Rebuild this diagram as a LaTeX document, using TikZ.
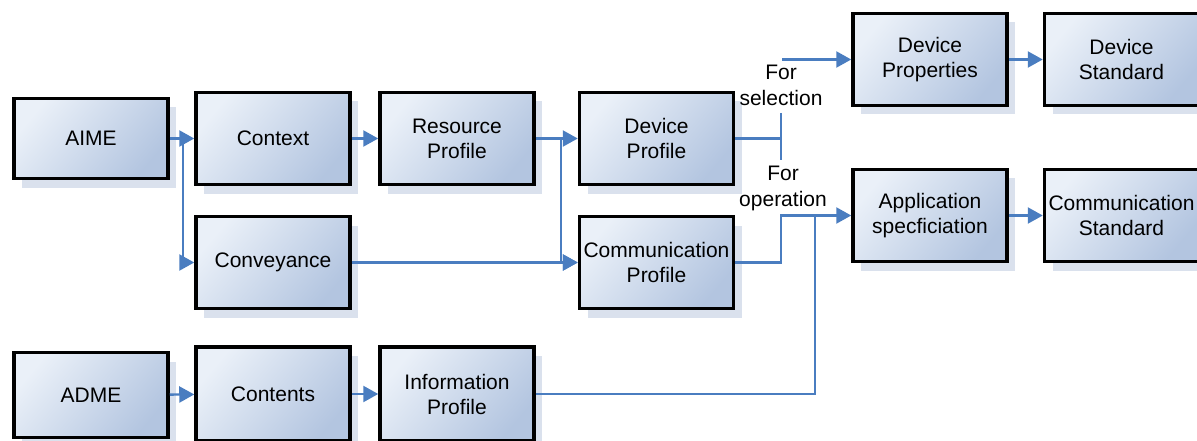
\documentclass[tikz,border=0pt]{standalone}
\usepackage{fontspec}
\setmainfont{Liberation Sans}
\usetikzlibrary{arrows.meta,shadows}
\definecolor{linkblue}{HTML}{4A7DC0}
\definecolor{boxlight}{HTML}{EAF0F8}
\definecolor{boxdark}{HTML}{B3C5E0}
\definecolor{shadowblue}{HTML}{DAE1ED}

\begin{document}
\begin{tikzpicture}[x=1pt,y=-1pt,
  box node/.style={rectangle,draw=black,line width=3.5pt,top color=boxlight,bottom color=boxdark,shading angle=50,
    align=center,font=\fontsize{21}{25}\selectfont,minimum width=154pt,minimum height=92pt,inner sep=0pt,
    general shadow={fill=shadowblue,shadow xshift=8pt,shadow yshift=-9pt}},
  word node/.style={align=center,inner sep=0pt,font=\fontsize{21}{26}\selectfont},
  wire/.style={draw=linkblue,line width=2.4pt},
  link/.style={wire,-{Triangle[length=15pt,width=16pt,fill=linkblue]}}]

  \useasboundingbox (0,0) rectangle (1197,441);

  \node[box node,minimum height=80pt] (aime) at (91,138.5){AIME};
  \node[box node] (context) at (273,138.5){Context};
  \node[box node] (resource) at (457,138.5){Resource\\Profile};
  \node[box node] (devprof) at (656.5,138.5){Device\\Profile};
  \node[box node] (conv) at (273,262.5){Conveyance};
  \node[box node] (commprof) at (656.5,262.5){Communication\\Profile};
  \node[box node] (devprop) at (930,59.5){Device\\Properties};
  \node[box node] (devstd) at (1121.5,59.5){Device\\Standard};
  \node[box node] (appspec) at (930,215.5){Application\\specficiation};
  \node[box node] (commstd) at (1121.5,215.5){Communication\\Standard};
  \node[box node,minimum height=85pt] (adme) at (91,395){ADME};
  \node[box node,minimum height=94pt] (contents) at (273,394){Contents};
  \node[box node,minimum height=94pt] (info) at (457,394){Information\\Profile};

  \node[word node] (sel) at (781,85){For\\selection};
  \node[word node] (oper) at (783,188){For\\operation};

  % split and join points
  \coordinate (aimesplit) at (183,138.5);
  \coordinate (ressplit) at (561,138.5);
  \coordinate (fork) at (781,138.5);
  \coordinate (forktop) at (781,113);
  \coordinate (forkbot) at (781,160);
  \coordinate (selstart) at (782,59.5);
  \coordinate (opbend) at (781,215.5);
  \coordinate (infojoin) at (815,215.5);

  \path[link]
    (aime) edge (context)
    (context) edge (resource)
    (resource) edge (devprof)
    (conv) edge (commprof)
    (devprop) edge (devstd)
    (appspec) edge (commstd)
    (adme) edge (contents)
    (contents) edge (info);

  \draw[link] (aimesplit) |- (conv.west);
  \draw[link] (ressplit) |- (commprof.west);
  \draw[wire] (devprof.east) -- (fork);
  \draw[wire] (forktop) -- (forkbot);
  \draw[link] (selstart) -- (devprop.west);
  \draw[link] (commprof.east) -| (opbend) -- (appspec.west);
  \draw[wire] (info.east) -| (infojoin);
\end{tikzpicture}
\end{document}
